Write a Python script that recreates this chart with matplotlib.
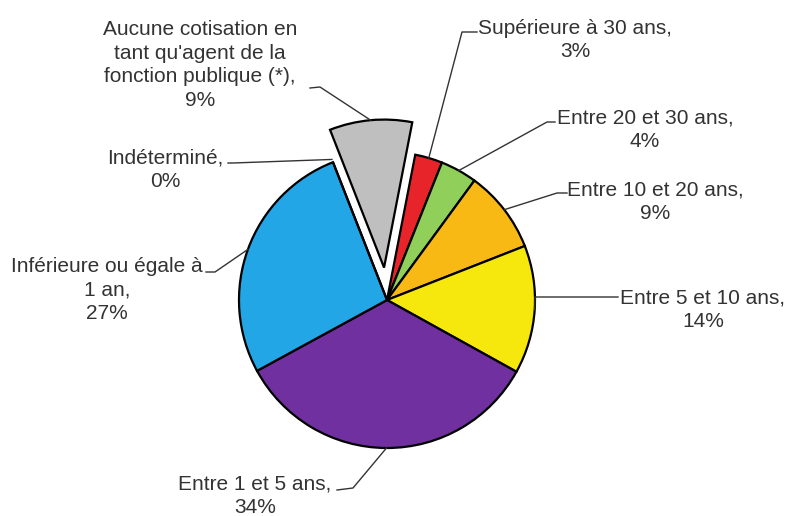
import numpy as np
import matplotlib
matplotlib.use("Agg")
import matplotlib.pyplot as plt

plt.rcParams['font.family'] = ['Liberation Sans', 'DejaVu Sans']

# data, clockwise from the top
labels = ["Supérieure à 30 ans,\n3%",
          "Entre 20 et 30 ans,\n4%",
          "Entre 10 et 20 ans,\n9%",
          "Entre 5 et 10 ans,\n14%",
          "Entre 1 et 5 ans,\n34%",
          "Inférieure ou égale à\n1 an,\n27%",
          "Indéterminé,\n0%",
          "Aucune cotisation en\ntant qu'agent de la\nfonction publique (*),\n9%"]
values = [3, 4, 9, 14, 34, 27, 0, 9]
colors = ["#e8242b", "#8fcf5a", "#f9b914", "#f6e80c", "#7030a0",
          "#22a6e6", "#22a6e6", "#bfbfbf"]
explode = [0, 0, 0, 0, 0, 0, 0, 0.22]

W, H = 789, 516
def px(x, y):
    return x, H - y

fig = plt.figure(figsize=(W / 100, H / 100), dpi=100)
ax = fig.add_axes([0, 0, 1, 1])

cx, cy = px(387, 300)
R = 148
start = 79
wedges, _ = ax.pie(values, colors=colors,
                   explode=[e * R for e in explode], startangle=start,
                   counterclock=False, center=(cx, cy), radius=R,
                   wedgeprops=dict(edgecolor="black", linewidth=1.6),
                   frame=True)
ax.set_xlim(0, W)
ax.set_ylim(0, H)
ax.set_aspect("equal")
ax.axis("off")

# label layout: text centre, elbow and tail of leader (pixel coords)
text_pos = [(575, 40), (645, 130), (655, 202), (703, 310), (255, 496),
            (107, 290), (165, 170), (200, 65)]
elbows = [(462, 32), (547, 122), (557, 193), (535, 297), (353, 488),
          (215, 272), (233, 163), (320, 87)]
tails = [(477, 32), (555, 122), (567, 193), (618, 297), (337, 490),
         (206, 272), (228, 163), (310, 88)]

for w, lab, tp, el, tl in zip(wedges, labels, text_pos, elbows, tails):
    th = np.deg2rad((w.theta1 + w.theta2) / 2)
    wx, wy = w.center
    r = w.r if w.theta1 != w.theta2 else w.r * 1.02
    pts = [(wx + r * np.cos(th), wy + r * np.sin(th)), px(*el), px(*tl)]
    xs, ys = zip(*pts)
    ax.plot(xs, ys, color="#333333", lw=1.0)
    ax.text(*px(*tp), lab, ha="center", va="center", fontsize=15,
            color="#333333", linespacing=1.3)

fig.savefig("out.png", dpi=100, facecolor="white")
